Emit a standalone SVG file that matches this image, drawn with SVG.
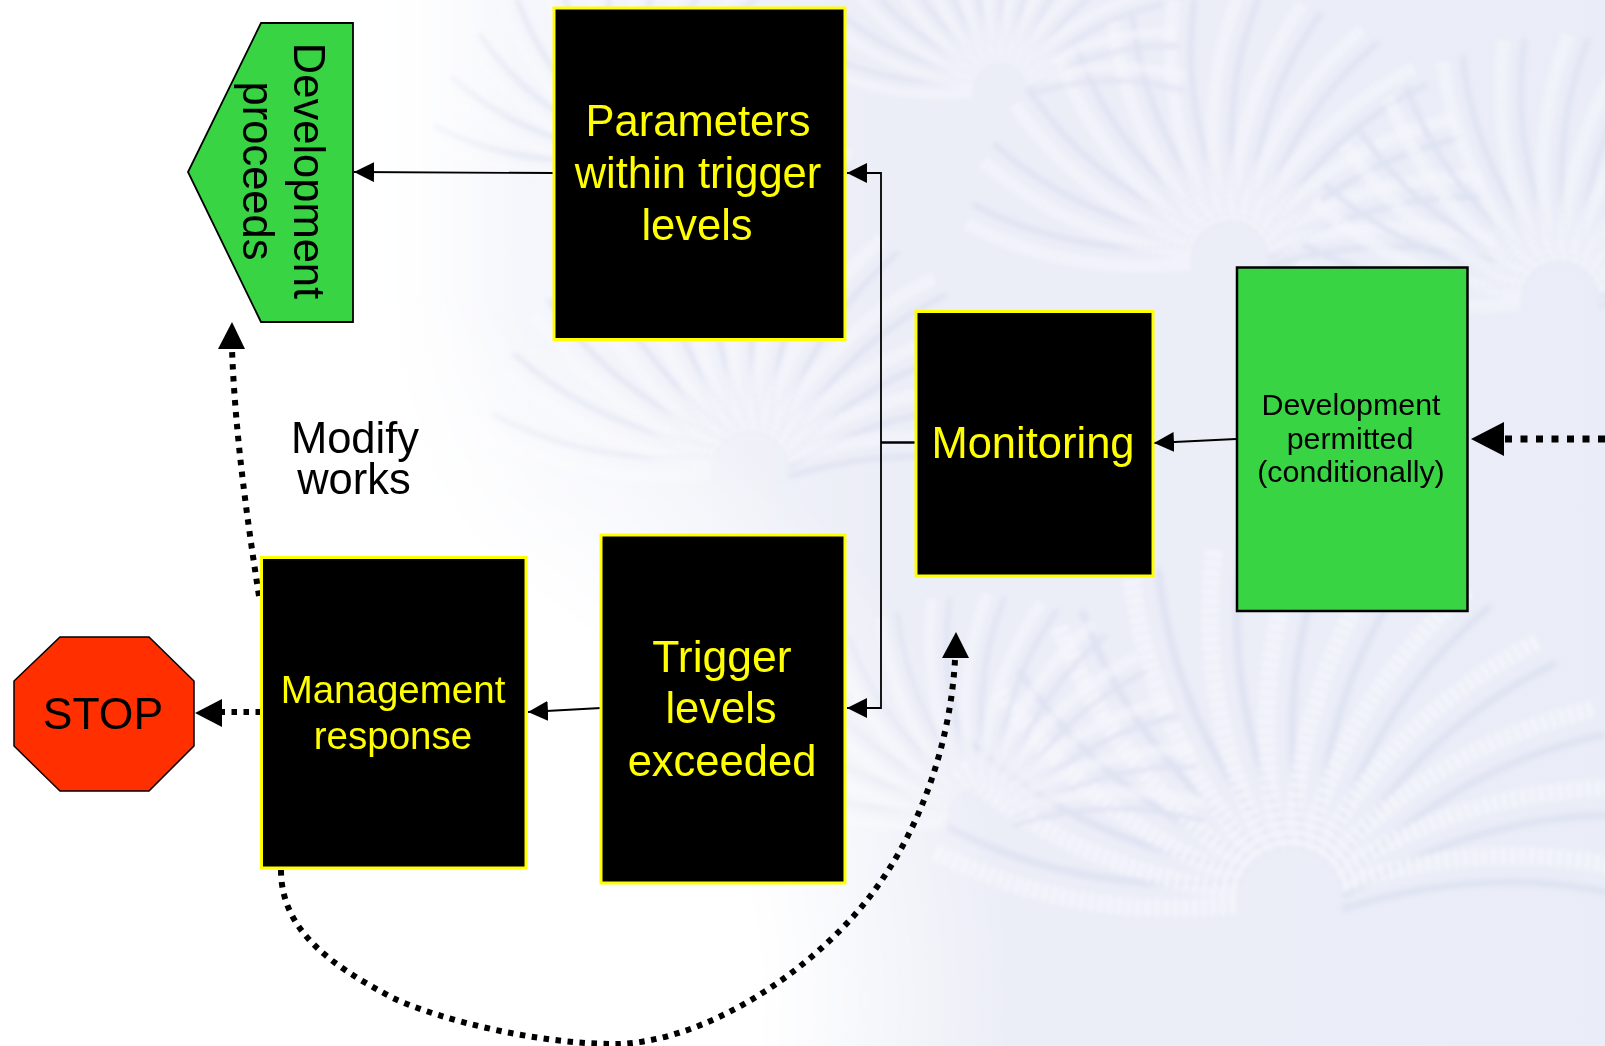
<svg xmlns="http://www.w3.org/2000/svg" width="1605" height="1046" viewBox="0 0 1605 1046">
<style>
text{font-family:"Liberation Sans",Arial,sans-serif;text-anchor:middle}
.y{fill:#ffff00;font-size:43.5px}
.k{fill:#000;font-size:43.5px}
.box{fill:#000;stroke:#ffff00;stroke-width:3}
.grn{fill:#38d444;stroke:#000;stroke-width:2.5}
.thin{fill:none;stroke:#000;stroke-width:1.8}
.dot{fill:none;stroke:#000;stroke-width:6;stroke-dasharray:5.500 6.500}
.f{fill:none;stroke:#fbfbfe;stroke-width:13;stroke-dasharray:4 3}
.d{fill:none;stroke:#d9deef;stroke-width:5;stroke-linecap:round}
</style>
<defs>
<linearGradient id="bg" x1="0" y1="0" x2="1" y2="0">
<stop offset="0.2" stop-color="#fff"/><stop offset="0.32" stop-color="#f6f7fc"/><stop offset="0.55" stop-color="#eceef7"/><stop offset="1" stop-color="#eaedf7"/>
</linearGradient>
<radialGradient id="wh" gradientUnits="userSpaceOnUse" cx="300" cy="1000" r="720">
<stop offset="0.62" stop-color="#fff"/><stop offset="1" stop-color="#fff" stop-opacity="0"/>
</radialGradient>
<linearGradient id="wt" x1="0" y1="0" x2="1" y2="0">
<stop offset="0.22" stop-color="#fff"/><stop offset="0.33" stop-color="#fff" stop-opacity="0"/>
</linearGradient>
<filter id="soft" x="-10%" y="-10%" width="120%" height="120%"><feGaussianBlur stdDeviation="2.800"/></filter>
<g id="fr"><path class="d" d="M10,-40C-5,-120 0,-190 28,-260"/><path class="f" d="M-8,-40C-24,-120 -20,-190 8,-265"/></g>
<g id="fan">
<use href="#fr" transform="rotate(-84)"/><use href="#fr" transform="rotate(-70)"/><use href="#fr" transform="rotate(-56)"/><use href="#fr" transform="rotate(-42)"/><use href="#fr" transform="rotate(-28)"/><use href="#fr" transform="rotate(-14)"/><use href="#fr" transform="rotate(0)"/><use href="#fr" transform="rotate(14)"/><use href="#fr" transform="rotate(28)"/><use href="#fr" transform="rotate(42)"/><use href="#fr" transform="rotate(56)"/><use href="#fr" transform="rotate(70)"/><use href="#fr" transform="rotate(84)"/>
</g>
<marker id="a" markerUnits="userSpaceOnUse" markerWidth="20" markerHeight="20" refX="20" refY="10" orient="auto"><path d="M0,0L20,10L0,20Z" fill="#000"/></marker>
</defs>
<g id="background">
<rect width="1605" height="1046" fill="url(#bg)"/>
<g filter="url(#soft)" opacity="0.7">
<use href="#fan" transform="translate(750,470)"/>
<use href="#fan" transform="translate(1290,900) scale(1.35)"/>
<use href="#fan" transform="translate(1230,260)"/>
<use href="#fan" transform="translate(1560,300)"/>
<use href="#fan" transform="translate(640,170) scale(0.8)"/>
<use href="#fan" transform="translate(980,820) scale(0.85)"/>
<use href="#fan" transform="translate(1000,90) scale(0.7)"/>
</g>
<rect width="1605" height="1046" fill="url(#wt)"/>
<rect x="0" y="300" width="1050" height="746" fill="url(#wh)"/>
</g>
<g id="connectors">
<path class="thin" d="M553,173L354,172" marker-end="url(#a)"/>
<path class="thin" d="M881,442V173H847" marker-end="url(#a)"/>
<path class="thin" d="M881,442V708H847" marker-end="url(#a)"/>
<path class="thin" d="M916,442.500H881" style="stroke-width:2.500px"/>
<path class="thin" d="M1236,439L1154,443" marker-end="url(#a)"/>
<path class="thin" d="M601,708L528,712" marker-end="url(#a)"/>
<path class="dot" d="M1605,439H1500" style="stroke-width:7px;stroke-dasharray:7 8.500"/><path d="M1471,439L1504,422V456Z"/>
<path class="dot" d="M261,712H222"/><path d="M195,713L222,699V727Z"/>
<path class="dot" d="M259,596C246,512 235,430 232,349"/><path d="M232,322L245,349H218Z"/>
<path class="dot" d="M281,870C281,930 330,965 393,998C440,1020 540,1045 620,1044C700,1040 790,985 850,920C915,850 950,750 955,660"/><path d="M956,632L969,658H942Z"/>
</g>
<g id="dev-proceeds">
<path d="M353,23H261L188,172L261,322H353Z" class="grn" style="stroke-width:1.800px"/>
<text class="k" transform="translate(294,171) rotate(90)">Development</text>
<text class="k" transform="translate(243,171) rotate(90)">proceeds</text>
</g>
<g id="parameters">
<rect class="box" x="554" y="8" width="291" height="331.500"/>
<text class="y" x="698" y="136">Parameters</text><text class="y" x="698" y="188">within trigger</text><text class="y" x="697" y="240">levels</text>
</g>
<g id="monitoring">
<rect class="box" x="916" y="311.500" width="237" height="264.500"/>
<text class="y" x="1033" y="458">Monitoring</text>
</g>
<g id="dev-permitted">
<rect class="grn" x="1237" y="267.500" width="230.500" height="343.500"/>
<text x="1351" y="415" style="font-size:30.400px">Development</text><text x="1350" y="449" style="font-size:30.400px">permitted</text><text x="1351" y="482" style="font-size:30.400px">(conditionally)</text>
</g>
<g id="trigger">
<rect class="box" x="601" y="535" width="244" height="348"/>
<text class="y" x="722" y="672" style="font-size:44.500px">Trigger</text><text class="y" x="721" y="723">levels</text><text class="y" x="722" y="776">exceeded</text>
</g>
<g id="management">
<rect class="box" x="261.500" y="557.500" width="264.500" height="310.500"/>
<text class="y" x="393" y="703" style="font-size:38.500px">Management</text><text class="y" x="393" y="749" style="font-size:38.500px">response</text>
</g>
<g id="stop">
<path d="M60,637H149L194,681V746L149,791H60L14,746V681Z" fill="#ff2f00" stroke="#000" stroke-width="1.500"/>
<text class="k" x="103" y="729" style="font-size:44.500px">STOP</text>
</g>
<g id="modify"><text class="k" x="355" y="453">Modify</text><text class="k" x="354" y="494">works</text></g>
</svg>
